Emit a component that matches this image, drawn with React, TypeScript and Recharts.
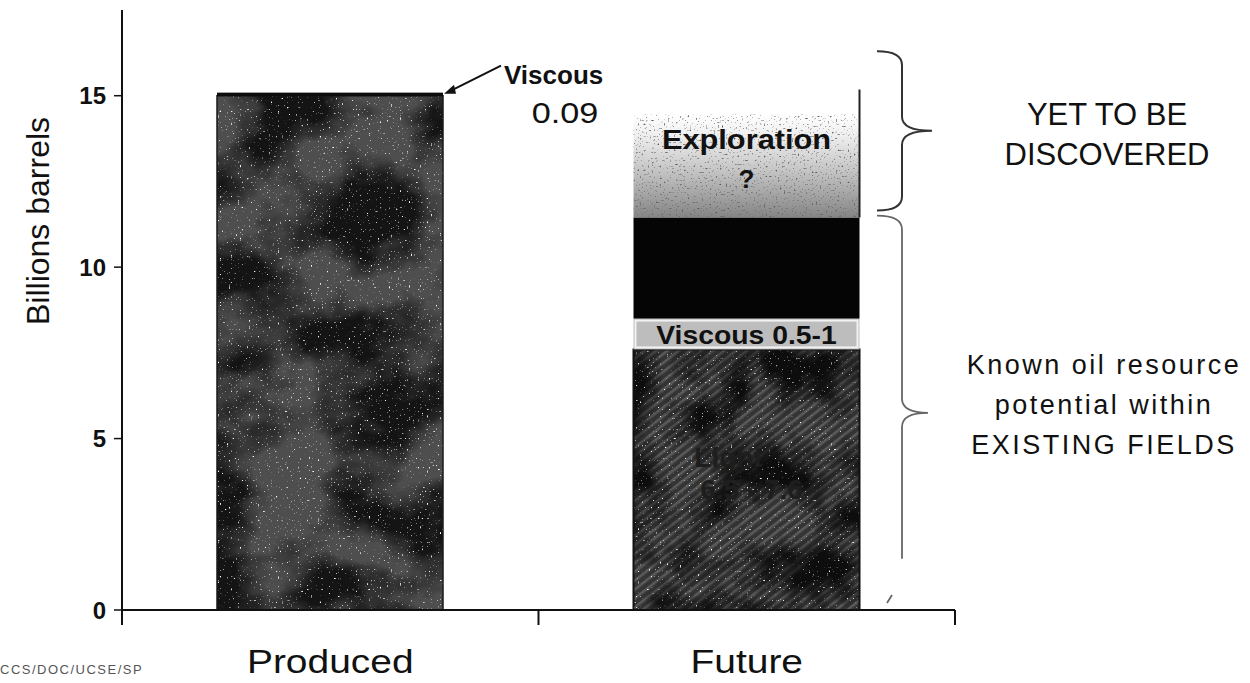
import React from 'react';
import { BarChart, Bar, XAxis, YAxis, ReferenceArea, Label } from 'recharts';

// ---------- data ----------
const categories = ['Produced', 'Future'];
const producedVolume = [15.0, 0];
const viscousProduced = [0.09, 0];
const lightOil = [0, 7.6];
const viscousFuture = [0, 0.9];
const darkBand = [0, 2.95];
const explorationVolume = [0, 3.0];
const yTicks = [0, 5, 10, 15];
const yDomain = [0, 17.5];
const yetToBeDiscoveredRange = [11.65, 16.3];
const existingFieldsRange = [0, 11.5];
const yetToBeLines = ['YET TO BE', 'DISCOVERED'];
const existingLines = ['Known oil resource', 'potential within', 'EXISTING FIELDS'];

const data = categories.map((name, i) => ({
  name,
  produced: producedVolume[i],
  viscousP: viscousProduced[i],
  light: lightOil[i],
  viscousF: viscousFuture[i],
  dark: darkBand[i],
  exploration: explorationVolume[i],
}));

const FONT = '"Liberation Sans", Arial, Helvetica, sans-serif';
const INK = '#111';

const SText = ({ x, y, sx = 1, children, ...rest }: any) => (
  <text transform={`translate(${x},${y}) scale(${sx},1)`} fontFamily={FONT} {...rest}>
    {children}
  </text>
);

const CatTick = (props: any) => {
  const { x, y, payload, index } = props;
  const count = props.visibleTicksCount ?? categories.length;
  const w = typeof props.width === 'number' && props.width > 0 ? props.width : 833;
  const band = w / count;
  return (
    <g>
      {index === 0 && (
        <line x1={x - band / 2} x2={x - band / 2} y1={y} y2={y + 15} stroke={INK} strokeWidth={2} />
      )}
      <line x1={x + band / 2} x2={x + band / 2} y1={y} y2={y + 15} stroke={INK} strokeWidth={2} />
      <SText x={x} y={y + 63} sx={1.18} textAnchor="middle" fontSize={33} fill={INK}>
        {payload.value}
      </SText>
    </g>
  );
};

const ProducedShape = (p: any) => {
  if (!p.height) return <g />;
  return (
    <g>
      <rect x={p.x} y={p.y} width={p.width} height={p.height} fill="#4e4e4e" filter="url(#grain)" />
      <rect x={p.x} y={p.y} width={p.width} height={p.height} fill="none" stroke="#1a1a1a" strokeWidth={1.5} />
    </g>
  );
};

const ViscousProducedShape = (p: any) => {
  if (!p.height) return <g />;
  const right = p.x + p.width;
  return (
    <g>
      <rect x={p.x} y={p.y} width={p.width} height={Math.max(p.height, 3.5)} fill="#0d0d0d" />
      <line x1={right + 58} y1={p.y - 27} x2={right + 6} y2={p.y - 1} stroke={INK} strokeWidth={2} />
      <path d={`M ${right + 1} ${p.y + 1} L ${right + 11} ${p.y - 8} L ${right + 13} ${p.y + 1} Z`} fill={INK} />
      <SText x={right + 61} y={p.y - 9} fontSize={26} fontWeight={700} fill={INK}>Viscous</SText>
      <SText x={right + 122} y={p.y + 30} sx={1.18} textAnchor="middle" fontSize={29} fill={INK}>0.09</SText>
    </g>
  );
};

const LightShape = (p: any) => {
  if (!p.height) return <g />;
  const cx = p.x + p.width / 2;
  return (
    <g>
      <rect x={p.x} y={p.y} width={p.width} height={p.height} fill="url(#stripes)" filter="url(#grain2)" />
      <rect x={p.x} y={p.y} width={p.width} height={p.height} fill="none" stroke="#111" strokeWidth={2} />
      <SText x={cx - 18} y={p.y + 118} fontSize={28} fontWeight={700} fill="#1e1e1e" textAnchor="middle">Light</SText>
      <SText x={cx + 5} y={p.y + 150} fontSize={28} fontWeight={700} fill="#1e1e1e" textAnchor="middle">6.5 - 7.6</SText>
    </g>
  );
};

const ViscousFutureShape = (p: any) => {
  if (!p.height) return <g />;
  const cx = p.x + p.width / 2;
  return (
    <g>
      <rect x={p.x} y={p.y} width={p.width} height={p.height} fill="#bdbdbd" />
      <rect x={p.x + 2} y={p.y + 2} width={p.width - 4} height={p.height - 4} fill="none" stroke="#f2f2f2" strokeWidth={2} />
      <SText x={cx} y={p.y + p.height / 2 + 10} sx={1.09} textAnchor="middle" fontSize={26} fontWeight={900} fill="#111">
        Viscous 0.5-1
      </SText>
    </g>
  );
};

const DarkShape = (p: any) => {
  if (!p.height) return <g />;
  return <rect x={p.x} y={p.y} width={p.width} height={p.height} fill="#050505" />;
};

const ExplorationShape = (p: any) => {
  if (!p.height) return <g />;
  const cx = p.x + p.width / 2;
  return (
    <g>
      <rect x={p.x} y={p.y} width={p.width} height={p.height} fill="url(#explGrad)" filter="url(#fineGrain)" />
      <line x1={p.x + p.width} x2={p.x + p.width} y1={p.y - 25} y2={p.y + p.height} stroke="#222" strokeWidth={2} />
      <SText x={cx} y={p.y + 34} sx={1.14} textAnchor="middle" fontSize={27} fontWeight={700} fill="#111">Exploration</SText>
      <SText x={cx} y={p.y + 73} textAnchor="middle" fontSize={26} fontWeight={700} fill="#111">?</SText>
    </g>
  );
};

const bracePath = (v: number, h: number, t: number, yT: number, yM: number, yB: number, r: number) =>
  `M ${h} ${yT} Q ${v} ${yT} ${v} ${yT + r} L ${v} ${yM - r} Q ${v} ${yM} ${t} ${yM} Q ${v} ${yM} ${v} ${yM + r} L ${v} ${yB - r} Q ${v} ${yB} ${h} ${yB}`;

const TopBrace = (p: any) => {
  const right = p.x + p.width;
  const yT = p.y;
  const yB = p.y + p.height;
  const yM = (yT + yB) / 2;
  const tx = right + 152;
  return (
    <g>
      <path d={bracePath(right - 53, right - 78, right - 23, yT, yM, yB, 14)} fill="none" stroke="#333" strokeWidth={2} />
      {yetToBeLines.map((s, i) => (
        <SText key={s} x={tx} y={yM - 6 + i * 40} textAnchor="middle" fontSize={31} fill={INK}>{s}</SText>
      ))}
    </g>
  );
};

const BottomBrace = (p: any) => {
  const right = p.x + p.width;
  const yT = p.y;
  const yB = p.y + p.height;
  const yM = (yT + yB) / 2;
  const v = right - 53;
  const yCut = yT + p.height * 0.87;
  const d = `M ${right - 78} ${yT} Q ${v} ${yT} ${v} ${yT + 14} L ${v} ${yM - 14} Q ${v} ${yM} ${right - 27} ${yM} Q ${v} ${yM} ${v} ${yM + 14} L ${v} ${yCut}`;
  const tx = right + 149;
  return (
    <g>
      <path d={d} fill="none" stroke="#666" strokeWidth={1.8} />
      <line x1={v - 10} y1={yB - 15} x2={v - 15} y2={yB - 7} stroke="#666" strokeWidth={1.8} />
      {existingLines.map((s, i) => (
        <SText key={s} x={tx} y={yM - 39 + i * 40} textAnchor="middle" fontSize={27} letterSpacing={2.5} fill={INK}>{s}</SText>
      ))}
    </g>
  );
};

const YLabel = (props: any) => {
  const vb = props.viewBox || { x: 0, y: 10 };
  return (
    <text
      transform={`translate(${vb.x + 38},${vb.y + 211}) rotate(-90)`}
      textAnchor="middle"
      dominantBaseline="central"
      fontFamily={FONT}
      fontSize={32}
      fill={INK}
    >
      Billions barrels
    </text>
  );
};

export default function App() {
  return (
    <div style={{ position: 'absolute', left: 0, top: 0, width: 1250, height: 683, background: '#fff', overflow: 'hidden' }}>
      <BarChart width={1250} height={683} data={data} margin={{ top: 10, right: 295, bottom: 13, left: 0 }}>
        <defs>
          <filter id="grain" x="0%" y="0%" width="100%" height="100%" colorInterpolationFilters="sRGB">
            <feTurbulence type="fractalNoise" baseFrequency="0.012 0.016" numOctaves={4} seed={4} result="blot" />
            <feColorMatrix in="blot" type="matrix" values="0 0 0 0 0.08  0 0 0 0 0.08  0 0 0 0 0.08  3.2 0 0 0 -1.15" result="darkA" />
            <feComposite in="darkA" in2="SourceGraphic" operator="in" result="darkC" />
            <feTurbulence type="fractalNoise" baseFrequency="0.55" numOctaves={1} seed={9} result="fine" />
            <feColorMatrix in="fine" type="matrix" values="0 0 0 0 1  0 0 0 0 1  0 0 0 0 1  9 0 0 0 -6.0" result="spots" />
            <feComposite in="spots" in2="SourceGraphic" operator="in" result="spotsC" />
            <feMerge>
              <feMergeNode in="SourceGraphic" />
              <feMergeNode in="darkC" />
              <feMergeNode in="spotsC" />
            </feMerge>
          </filter>
          <filter id="grain2" x="0%" y="0%" width="100%" height="100%" colorInterpolationFilters="sRGB">
            <feTurbulence type="fractalNoise" baseFrequency="0.02" numOctaves={3} seed={11} result="blot" />
            <feColorMatrix in="blot" type="matrix" values="0 0 0 0 0.05  0 0 0 0 0.05  0 0 0 0 0.05  2.8 0 0 0 -1.05" result="darkA" />
            <feComposite in="darkA" in2="SourceGraphic" operator="in" result="darkC" />
            <feTurbulence type="fractalNoise" baseFrequency="0.55" numOctaves={1} seed={3} result="fine" />
            <feColorMatrix in="fine" type="matrix" values="0 0 0 0 1  0 0 0 0 1  0 0 0 0 1  9 0 0 0 -6.1" result="spots" />
            <feComposite in="spots" in2="SourceGraphic" operator="in" result="spotsC" />
            <feMerge>
              <feMergeNode in="SourceGraphic" />
              <feMergeNode in="darkC" />
              <feMergeNode in="spotsC" />
            </feMerge>
          </filter>
          <filter id="fineGrain" x="0%" y="0%" width="100%" height="100%" colorInterpolationFilters="sRGB">
            <feTurbulence type="fractalNoise" baseFrequency="0.5" numOctaves={1} seed={5} result="fine" />
            <feColorMatrix in="fine" type="matrix" values="0 0 0 0 0.35  0 0 0 0 0.35  0 0 0 0 0.35  6 0 0 0 -3.8" result="spots" />
            <feComposite in="spots" in2="SourceGraphic" operator="in" result="spotsC" />
            <feMerge>
              <feMergeNode in="SourceGraphic" />
              <feMergeNode in="spotsC" />
            </feMerge>
          </filter>
          <pattern id="stripes" width="7" height="7" patternUnits="userSpaceOnUse" patternTransform="rotate(-38)">
            <rect width="7" height="7" fill="#343434" />
            <rect width="7" height="2.6" fill="#5a5a5a" />
          </pattern>
          <linearGradient id="explGrad" x1="0" y1="0" x2="0" y2="1">
            <stop offset="0" stopColor="#ffffff" />
            <stop offset="0.2" stopColor="#efefef" />
            <stop offset="0.55" stopColor="#c4c4c4" />
            <stop offset="1" stopColor="#858585" />
          </linearGradient>
        </defs>
        <XAxis
          dataKey="name"
          interval={0}
          height={60}
          tickSize={0}
          tickMargin={0}
          tickLine={false}
          axisLine={{ stroke: INK, strokeWidth: 2 }}
          tick={<CatTick />}
        />
        <YAxis
          type="number"
          domain={yDomain}
          ticks={yTicks}
          width={122}
          tickSize={8}
          tickMargin={8}
          axisLine={{ stroke: INK, strokeWidth: 2 }}
          tickLine={{ stroke: INK, strokeWidth: 1.5 }}
          tick={{ fontSize: 24, fontWeight: 700, fill: INK, fontFamily: FONT }}
          allowDataOverflow
        >
          <Label content={<YLabel />} />
        </YAxis>
        <Bar dataKey="produced" stackId="s" barSize={226} shape={<ProducedShape />} isAnimationActive={false} />
        <Bar dataKey="viscousP" stackId="s" barSize={226} shape={<ViscousProducedShape />} isAnimationActive={false} />
        <Bar dataKey="light" stackId="s" barSize={226} shape={<LightShape />} isAnimationActive={false} />
        <Bar dataKey="viscousF" stackId="s" barSize={226} shape={<ViscousFutureShape />} isAnimationActive={false} />
        <Bar dataKey="dark" stackId="s" barSize={226} shape={<DarkShape />} isAnimationActive={false} />
        <Bar dataKey="exploration" stackId="s" barSize={226} shape={<ExplorationShape />} isAnimationActive={false} />
        <ReferenceArea y1={yetToBeDiscoveredRange[0]} y2={yetToBeDiscoveredRange[1]} shape={<TopBrace />} ifOverflow="visible" />
        <ReferenceArea y1={existingFieldsRange[0]} y2={existingFieldsRange[1]} shape={<BottomBrace />} ifOverflow="visible" />
      </BarChart>
      <div
        style={{
          position: 'absolute',
          left: 0,
          top: 662,
          fontSize: 13,
          letterSpacing: 1.5,
          color: '#555',
          fontFamily: FONT,
          whiteSpace: 'nowrap',
        }}
      >
        CCS/DOC/UCSE/SP
      </div>
    </div>
  );
}
